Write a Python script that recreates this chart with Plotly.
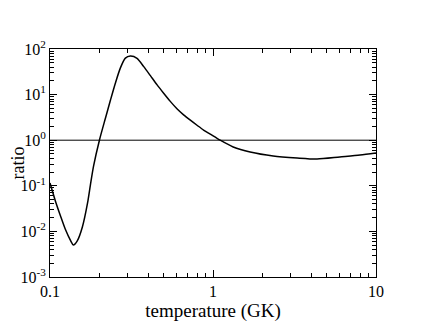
import plotly.graph_objects as go

temperature = [0.1, 0.108, 0.116, 0.124, 0.134, 0.139, 0.147, 0.158, 0.170, 0.177,
               0.185, 0.201, 0.219, 0.235, 0.252, 0.270, 0.290, 0.311, 0.342, 0.376,
               0.413, 0.454, 0.498, 0.547, 0.601, 0.660, 0.726, 0.798, 0.875, 0.962,
               1.107, 1.33, 1.69, 2.34, 3.28, 4.35, 6.0, 7.98, 10.0]
ratio = [0.115, 0.046, 0.0218, 0.0113, 0.0062, 0.00503, 0.0062, 0.0125, 0.042, 0.105,
         0.27, 1.0, 3.07, 7.6, 18, 38, 63, 70, 62.5, 41,
         26, 16.3, 10.7, 7.1, 4.9, 3.6, 2.75, 2.13, 1.67, 1.36,
         1.0, 0.71, 0.55, 0.45, 0.407, 0.387, 0.43, 0.473, 0.525]
ref_x = [0.1, 10]
ref_y = [1, 1]

x_tickvals = [0.1, 1, 10]
x_ticktext = ["0.1", "1", "10"]
y_tickvals = [1e-3, 1e-2, 1e-1, 1, 10, 100]
y_ticktext = ["10<sup>-3</sup>", "10<sup>-2</sup>", "10<sup>-1</sup>",
              "10<sup>0</sup>", "10<sup>1</sup>", "10<sup>2</sup>"]

x_minor = [m * d for d in (0.1, 1) for m in range(2, 10)]
y_minor = [m * d for d in (1e-3, 1e-2, 1e-1, 1, 10) for m in range(2, 10)]

fig = go.Figure()
fig.add_trace(go.Scatter(x=ref_x, y=ref_y, mode="lines",
                         line=dict(color="black", width=1), showlegend=False))
fig.add_trace(go.Scatter(x=temperature, y=ratio, mode="lines",
                         line=dict(color="black", width=1.5, shape="spline", smoothing=0.7),
                         showlegend=False))

font = dict(family="Liberation Serif, Times New Roman, serif", color="black")
axis_common = dict(type="log", showgrid=False, zeroline=False, showline=True,
                   linecolor="black", linewidth=1, mirror="allticks",
                   ticks="inside", ticklen=7, tickcolor="black", automargin=False,
                   tickfont=dict(size=16, **font))

fig.update_xaxes(range=[-1, 1], tickvals=x_tickvals, ticktext=x_ticktext,
                 minor=dict(ticks="inside", ticklen=4, tickcolor="black", showgrid=False,
                            tickmode="array", tickvals=x_minor),
                 title=dict(text="temperature (GK)", font=dict(size=19, **font), standoff=0),
                 **axis_common)
fig.update_yaxes(range=[-3, 2], tickvals=y_tickvals, ticktext=y_ticktext,
                 minor=dict(ticks="inside", ticklen=4, tickcolor="black", showgrid=False,
                            tickmode="array", tickvals=y_minor),
                 title=dict(text="ratio", font=dict(size=18, **font), standoff=0),
                 **axis_common)

fig.update_layout(width=415, height=319, margin=dict(l=42, r=47, t=41, b=50),
                  plot_bgcolor="white", paper_bgcolor="white", font=font)
fig.write_html("out.html")
